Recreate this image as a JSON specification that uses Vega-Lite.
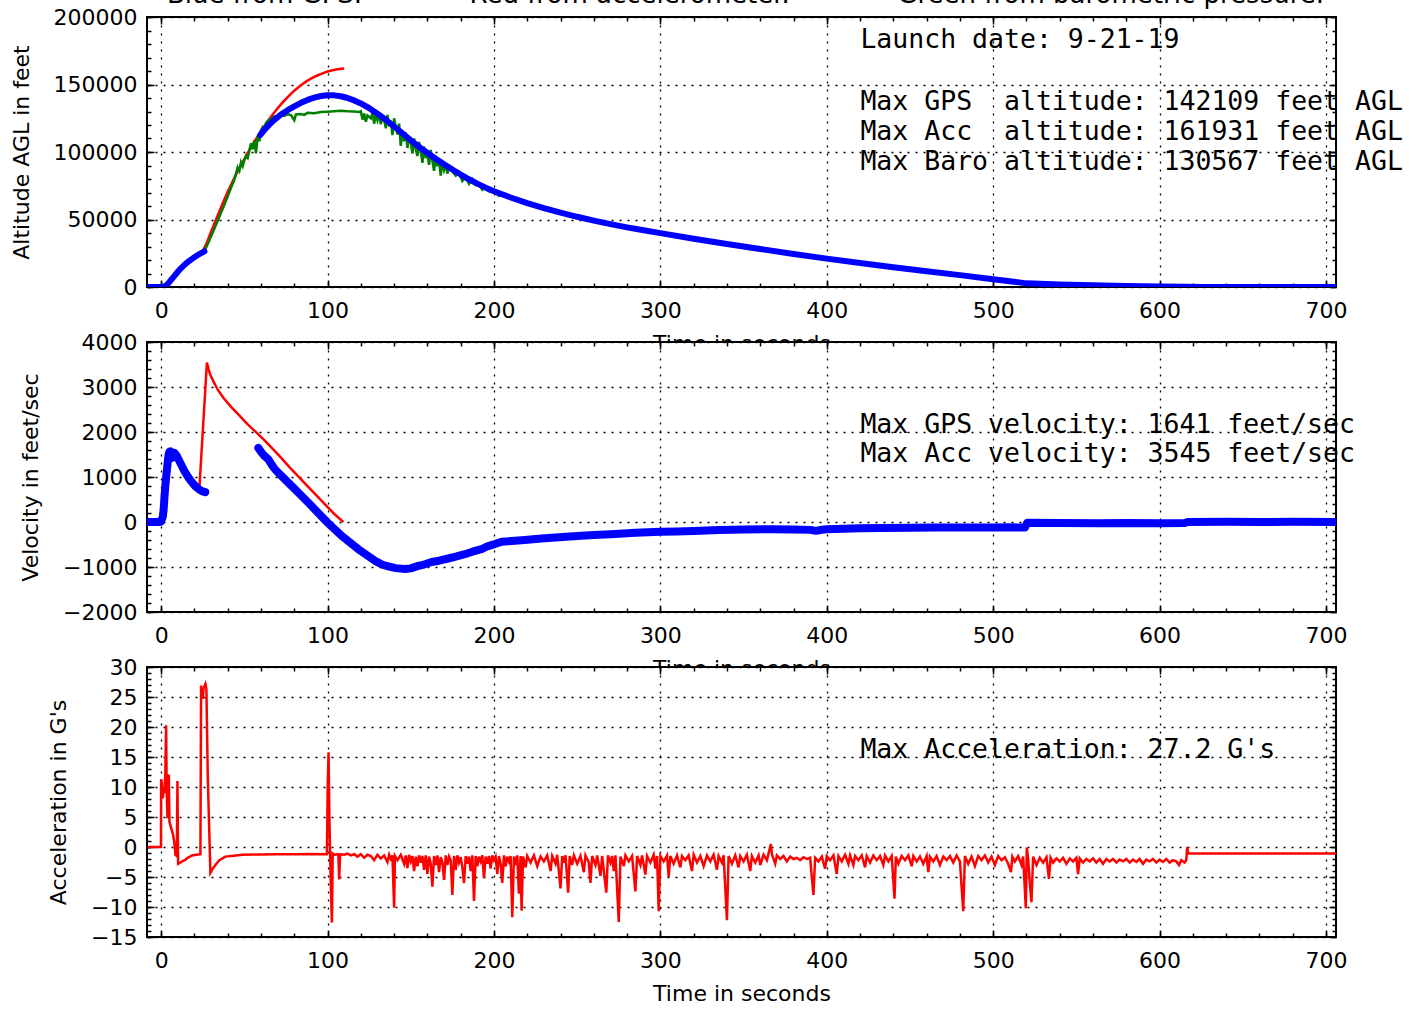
{
"$schema": "https://vega.github.io/schema/vega-lite/v6.json",
"background": "white",
"padding": {"left": 9, "top": -18, "right": 5, "bottom": 5},
"title": {"text": "Blue from GPS.\u00a0 \u00a0 \u00a0 \u00a0 \u00a0 \u00a0 \u00a0Red from accelerometer.\u00a0 \u00a0 \u00a0 \u00a0 \u00a0 \u00a0 \u00a0Green from barometric pressure.", "anchor": "middle", "frame": "group", "fontSize": 26, "font": "DejaVu Sans", "fontWeight": "normal", "color": "black", "offset": 12, "dy": 36, "dx": 4, "baseline": "alphabetic"},
"bounds": "flush",
"spacing": 55,
"datasets": {
"dummy": [{"t": 0, "y": 0}],
"notes": [
{"p": 1, "t": 420.2, "y": 177000, "label": "Launch date: 9-21-19"},
{"p": 1, "t": 420.2, "y": 131100, "label": "Max GPS \u00a0altitude: 142109 feet AGL"},
{"p": 1, "t": 420.2, "y": 108900, "label": "Max Acc \u00a0altitude: 161931 feet AGL"},
{"p": 1, "t": 420.2, "y": 86700, "label": "Max Baro altitude: 130567 feet AGL"},
{"p": 2, "t": 420.2, "y": 1988, "label": "Max GPS velocity: 1641 feet/sec"},
{"p": 2, "t": 420.2, "y": 1323, "label": "Max Acc velocity: 3545 feet/sec"},
{"p": 3, "t": 420.2, "y": 14.8, "label": "Max Acceleration: 27.2 G's"}
],
"alt": [
{"s":"GPS1","t":-8,"a":0},{"s":"GPS1","t":-4,"a":0},{"s":"GPS1","t":0,"a":0},{"s":"GPS1","t":2,"a":450},{"s":"GPS1","t":3,"a":1200},{"s":"GPS1","t":4,"a":2350},{"s":"GPS1","t":5,"a":3800},{"s":"GPS1","t":6,"a":5350},{"s":"GPS1","t":7,"a":6800},{"s":"GPS1","t":8,"a":8300},{"s":"GPS1","t":10,"a":11300},{"s":"GPS1","t":12,"a":14000},{"s":"GPS1","t":14,"a":16400},{"s":"GPS1","t":16,"a":18500},{"s":"GPS1","t":18,"a":20300},{"s":"GPS1","t":20,"a":22100},{"s":"GPS1","t":22,"a":23700},{"s":"GPS1","t":24,"a":25100},{"s":"GPS1","t":26,"a":26400},
{"s":"GPS2","t":59.5,"a":112500},{"s":"GPS2","t":62,"a":116300},{"s":"GPS2","t":65,"a":120300},{"s":"GPS2","t":68,"a":123800},{"s":"GPS2","t":72,"a":127800},{"s":"GPS2","t":76,"a":131000},{"s":"GPS2","t":80,"a":133800},{"s":"GPS2","t":84,"a":136400},{"s":"GPS2","t":88,"a":138600},{"s":"GPS2","t":92,"a":140300},{"s":"GPS2","t":96,"a":141500},{"s":"GPS2","t":100,"a":142109},{"s":"GPS2","t":104,"a":141950},{"s":"GPS2","t":108,"a":141300},{"s":"GPS2","t":112,"a":140000},{"s":"GPS2","t":116,"a":138200},{"s":"GPS2","t":120,"a":136000},{"s":"GPS2","t":124,"a":133300},{"s":"GPS2","t":128,"a":130000},{"s":"GPS2","t":132,"a":126600},{"s":"GPS2","t":136,"a":122800},{"s":"GPS2","t":140,"a":118900},{"s":"GPS2","t":144,"a":114800},{"s":"GPS2","t":148,"a":110700},{"s":"GPS2","t":152,"a":106700},{"s":"GPS2","t":156,"a":102900},{"s":"GPS2","t":160,"a":99300},{"s":"GPS2","t":165,"a":95000},{"s":"GPS2","t":170,"a":90900},{"s":"GPS2","t":175,"a":87000},{"s":"GPS2","t":180,"a":83300},{"s":"GPS2","t":185,"a":79800},{"s":"GPS2","t":190,"a":76600},{"s":"GPS2","t":195,"a":73600},{"s":"GPS2","t":200,"a":70900},{"s":"GPS2","t":210,"a":66300},{"s":"GPS2","t":220,"a":62200},{"s":"GPS2","t":230,"a":58500},{"s":"GPS2","t":240,"a":55100},{"s":"GPS2","t":250,"a":52000},{"s":"GPS2","t":260,"a":49200},{"s":"GPS2","t":270,"a":46600},{"s":"GPS2","t":280,"a":44200},{"s":"GPS2","t":290,"a":42000},{"s":"GPS2","t":300,"a":39900},{"s":"GPS2","t":320,"a":35800},{"s":"GPS2","t":340,"a":31900},{"s":"GPS2","t":360,"a":28200},{"s":"GPS2","t":380,"a":24500},{"s":"GPS2","t":400,"a":21000},{"s":"GPS2","t":420,"a":17800},{"s":"GPS2","t":440,"a":14700},{"s":"GPS2","t":460,"a":11700},{"s":"GPS2","t":480,"a":8800},{"s":"GPS2","t":500,"a":5800},{"s":"GPS2","t":510,"a":4300},{"s":"GPS2","t":520,"a":2700},{"s":"GPS2","t":540,"a":1900},{"s":"GPS2","t":560,"a":1300},{"s":"GPS2","t":580,"a":800},{"s":"GPS2","t":600,"a":400},{"s":"GPS2","t":617,"a":100},{"s":"GPS2","t":625,"a":0},{"s":"GPS2","t":706,"a":0},
{"s":"ACC","t":0,"a":0},{"s":"ACC","t":2,"a":450},{"s":"ACC","t":4,"a":2350},{"s":"ACC","t":6,"a":5350},{"s":"ACC","t":8,"a":8300},{"s":"ACC","t":10,"a":11300},{"s":"ACC","t":14,"a":16400},{"s":"ACC","t":18,"a":20300},{"s":"ACC","t":22,"a":23700},{"s":"ACC","t":23,"a":24500},{"s":"ACC","t":24.5,"a":26000},{"s":"ACC","t":26,"a":29000},{"s":"ACC","t":27.5,"a":33000},{"s":"ACC","t":30,"a":41000},{"s":"ACC","t":32.5,"a":48500},{"s":"ACC","t":35,"a":56000},{"s":"ACC","t":37.5,"a":63500},{"s":"ACC","t":40,"a":70500},{"s":"ACC","t":42.5,"a":77000},{"s":"ACC","t":45,"a":83200},{"s":"ACC","t":47.5,"a":89000},{"s":"ACC","t":50,"a":94800},{"s":"ACC","t":52.5,"a":100300},{"s":"ACC","t":55,"a":105600},{"s":"ACC","t":57.5,"a":110600},{"s":"ACC","t":60,"a":115300},{"s":"ACC","t":62.5,"a":120000},{"s":"ACC","t":65,"a":124400},{"s":"ACC","t":67.5,"a":128500},{"s":"ACC","t":70,"a":132400},{"s":"ACC","t":72.5,"a":136000},{"s":"ACC","t":75,"a":139400},{"s":"ACC","t":77.5,"a":142500},{"s":"ACC","t":80,"a":145400},{"s":"ACC","t":82.5,"a":148000},{"s":"ACC","t":85,"a":150400},{"s":"ACC","t":87.5,"a":152500},{"s":"ACC","t":90,"a":154300},{"s":"ACC","t":93.5,"a":156500},{"s":"ACC","t":97,"a":158300},{"s":"ACC","t":100,"a":159600},{"s":"ACC","t":103,"a":160600},{"s":"ACC","t":106,"a":161300},{"s":"ACC","t":110,"a":161931},
{"s":"BARO","t":-8,"a":0},{"s":"BARO","t":0,"a":0},{"s":"BARO","t":4,"a":2350},{"s":"BARO","t":8,"a":8300},{"s":"BARO","t":12,"a":14000},{"s":"BARO","t":16,"a":18500},{"s":"BARO","t":20,"a":22100},{"s":"BARO","t":24,"a":25100},{"s":"BARO","t":26,"a":26400},{"s":"BARO","t":30,"a":37500},{"s":"BARO","t":34,"a":49000},{"s":"BARO","t":38,"a":61000},{"s":"BARO","t":42,"a":73500},{"s":"BARO","t":44,"a":79500},{"s":"BARO","t":45,"a":84000},{"s":"BARO","t":46,"a":88500},{"s":"BARO","t":47,"a":86000},{"s":"BARO","t":48,"a":92500},{"s":"BARO","t":49,"a":89500},{"s":"BARO","t":50,"a":94000},{"s":"BARO","t":51,"a":97000},{"s":"BARO","t":52,"a":95500},{"s":"BARO","t":53,"a":101000},{"s":"BARO","t":54,"a":106500},{"s":"BARO","t":55,"a":102000},{"s":"BARO","t":56,"a":108500},{"s":"BARO","t":57,"a":99000},{"s":"BARO","t":58,"a":112000},{"s":"BARO","t":59,"a":108000},{"s":"BARO","t":60,"a":116000},{"s":"BARO","t":61,"a":118500},{"s":"BARO","t":62,"a":117000},{"s":"BARO","t":63,"a":121500},{"s":"BARO","t":64,"a":123000},{"s":"BARO","t":66,"a":124500},{"s":"BARO","t":68,"a":126500},{"s":"BARO","t":70,"a":126000},{"s":"BARO","t":72,"a":127500},{"s":"BARO","t":74,"a":126800},{"s":"BARO","t":76,"a":128000},{"s":"BARO","t":78,"a":127300},{"s":"BARO","t":80,"a":123500},{"s":"BARO","t":81,"a":127800},{"s":"BARO","t":84,"a":128200},{"s":"BARO","t":86,"a":127500},{"s":"BARO","t":88,"a":129000},{"s":"BARO","t":92,"a":128700},{"s":"BARO","t":96,"a":129600},{"s":"BARO","t":100,"a":129900},{"s":"BARO","t":104,"a":130200},{"s":"BARO","t":108,"a":130567},{"s":"BARO","t":112,"a":130100},{"s":"BARO","t":116,"a":130000},{"s":"BARO","t":119,"a":129600},{"s":"BARO","t":120,"a":130200},{"s":"BARO","t":121,"a":124000},{"s":"BARO","t":122,"a":128500},{"s":"BARO","t":123,"a":122500},{"s":"BARO","t":124,"a":127000},{"s":"BARO","t":126,"a":125000},{"s":"BARO","t":127,"a":129000},{"s":"BARO","t":128,"a":121000},{"s":"BARO","t":129,"a":127500},{"s":"BARO","t":130,"a":123500},{"s":"BARO","t":131,"a":128500},{"s":"BARO","t":132,"a":120500},{"s":"BARO","t":133,"a":126000},{"s":"BARO","t":134,"a":124500},{"s":"BARO","t":135,"a":117500},{"s":"BARO","t":136,"a":127500},{"s":"BARO","t":137,"a":119000},{"s":"BARO","t":138,"a":123000},{"s":"BARO","t":139,"a":112500},{"s":"BARO","t":140,"a":125000},{"s":"BARO","t":141,"a":118000},{"s":"BARO","t":142,"a":113000},{"s":"BARO","t":143,"a":121000},{"s":"BARO","t":144,"a":104500},{"s":"BARO","t":145,"a":116000},{"s":"BARO","t":146,"a":108000},{"s":"BARO","t":147,"a":114500},{"s":"BARO","t":148,"a":103000},{"s":"BARO","t":149,"a":111500},{"s":"BARO","t":150,"a":107000},{"s":"BARO","t":151,"a":99000},{"s":"BARO","t":152,"a":110000},{"s":"BARO","t":153,"a":102000},{"s":"BARO","t":154,"a":97000},{"s":"BARO","t":155,"a":107500},{"s":"BARO","t":156,"a":101000},{"s":"BARO","t":157,"a":92000},{"s":"BARO","t":158,"a":104000},{"s":"BARO","t":159,"a":95500},{"s":"BARO","t":160,"a":99000},{"s":"BARO","t":161,"a":90500},{"s":"BARO","t":162,"a":101500},{"s":"BARO","t":163,"a":93500},{"s":"BARO","t":164,"a":86000},{"s":"BARO","t":165,"a":97000},{"s":"BARO","t":166,"a":89500},{"s":"BARO","t":167,"a":94000},{"s":"BARO","t":168,"a":82500},{"s":"BARO","t":169,"a":92000},{"s":"BARO","t":170,"a":86500},{"s":"BARO","t":171,"a":90500},{"s":"BARO","t":172,"a":84000},{"s":"BARO","t":173,"a":88500},{"s":"BARO","t":175,"a":85500},{"s":"BARO","t":177,"a":82500},{"s":"BARO","t":179,"a":85000},{"s":"BARO","t":181,"a":78500},{"s":"BARO","t":183,"a":81500},{"s":"BARO","t":185,"a":76500},{"s":"BARO","t":187,"a":80000},{"s":"BARO","t":189,"a":75500},{"s":"BARO","t":191,"a":76000},{"s":"BARO","t":193,"a":72000},{"s":"BARO","t":195,"a":74500},{"s":"BARO","t":197,"a":71000},{"s":"BARO","t":200,"a":71000},{"s":"BARO","t":203,"a":67500},{"s":"BARO","t":206,"a":68500},{"s":"BARO","t":210,"a":65500},{"s":"BARO","t":215,"a":63500},{"s":"BARO","t":220,"a":61000},{"s":"BARO","t":225,"a":60000},{"s":"BARO","t":230,"a":57500},{"s":"BARO","t":240,"a":54500},{"s":"BARO","t":250,"a":51500},{"s":"BARO","t":260,"a":48800},{"s":"BARO","t":270,"a":46200},{"s":"BARO","t":280,"a":43800},{"s":"BARO","t":300,"a":39500},{"s":"BARO","t":350,"a":29800},{"s":"BARO","t":400,"a":20700},{"s":"BARO","t":450,"a":12900},{"s":"BARO","t":500,"a":5700},{"s":"BARO","t":520,"a":2800},{"s":"BARO","t":560,"a":1200},{"s":"BARO","t":600,"a":300},{"s":"BARO","t":620,"a":0},{"s":"BARO","t":706,"a":0}
],
"vel": [
{"s":"GPS1","t":-8,"v":0},{"s":"GPS1","t":-4,"v":0},{"s":"GPS1","t":-0.5,"v":0},{"s":"GPS1","t":0,"v":10},{"s":"GPS1","t":1,"v":120},{"s":"GPS1","t":1.5,"v":280},{"s":"GPS1","t":2,"v":550},{"s":"GPS1","t":2.5,"v":800},{"s":"GPS1","t":3,"v":990},{"s":"GPS1","t":3.5,"v":1170},{"s":"GPS1","t":4,"v":1350},{"s":"GPS1","t":4.5,"v":1500},{"s":"GPS1","t":5,"v":1560},{"s":"GPS1","t":5.5,"v":1570},{"s":"GPS1","t":6,"v":1500},{"s":"GPS1","t":6.5,"v":1425},{"s":"GPS1","t":7,"v":1480},{"s":"GPS1","t":7.5,"v":1540},{"s":"GPS1","t":8,"v":1536},{"s":"GPS1","t":8.5,"v":1510},{"s":"GPS1","t":9.5,"v":1462},{"s":"GPS1","t":11,"v":1350},{"s":"GPS1","t":12.5,"v":1240},{"s":"GPS1","t":14,"v":1130},{"s":"GPS1","t":15.5,"v":1040},{"s":"GPS1","t":16.5,"v":983},{"s":"GPS1","t":18,"v":910},{"s":"GPS1","t":19.5,"v":840},{"s":"GPS1","t":20.5,"v":797},{"s":"GPS1","t":22,"v":750},{"s":"GPS1","t":23,"v":720},{"s":"GPS1","t":24.5,"v":686},{"s":"GPS1","t":26.5,"v":665},
{"s":"GPS2","t":58.4,"v":1647},{"s":"GPS2","t":60,"v":1560},{"s":"GPS2","t":62,"v":1470},{"s":"GPS2","t":64.5,"v":1388},{"s":"GPS2","t":66.5,"v":1270},{"s":"GPS2","t":68.5,"v":1167},{"s":"GPS2","t":73.5,"v":980},{"s":"GPS2","t":78.5,"v":797},{"s":"GPS2","t":88.5,"v":428},{"s":"GPS2","t":100,"v":-14},{"s":"GPS2","t":108.5,"v":-310},{"s":"GPS2","t":118.5,"v":-605},{"s":"GPS2","t":128.5,"v":-863},{"s":"GPS2","t":133,"v":-950},{"s":"GPS2","t":136.5,"v":-988},{"s":"GPS2","t":141,"v":-1025},{"s":"GPS2","t":146.5,"v":-1045},{"s":"GPS2","t":150,"v":-1030},{"s":"GPS2","t":154.5,"v":-975},{"s":"GPS2","t":158,"v":-945},{"s":"GPS2","t":162.5,"v":-890},{"s":"GPS2","t":167,"v":-860},{"s":"GPS2","t":172.5,"v":-811},{"s":"GPS2","t":177,"v":-770},{"s":"GPS2","t":182.5,"v":-715},{"s":"GPS2","t":187,"v":-660},{"s":"GPS2","t":192.5,"v":-605},{"s":"GPS2","t":196,"v":-540},{"s":"GPS2","t":200.5,"v":-490},{"s":"GPS2","t":204.6,"v":-438},{"s":"GPS2","t":208.5,"v":-430},{"s":"GPS2","t":218.5,"v":-398},{"s":"GPS2","t":228.5,"v":-369},{"s":"GPS2","t":237,"v":-343},{"s":"GPS2","t":250,"v":-310},{"s":"GPS2","t":260,"v":-290},{"s":"GPS2","t":270,"v":-270},{"s":"GPS2","t":285,"v":-240},{"s":"GPS2","t":300,"v":-219},{"s":"GPS2","t":310,"v":-210},{"s":"GPS2","t":320,"v":-200},{"s":"GPS2","t":335,"v":-178},{"s":"GPS2","t":350,"v":-168},{"s":"GPS2","t":367,"v":-161},{"s":"GPS2","t":380,"v":-168},{"s":"GPS2","t":390,"v":-175},{"s":"GPS2","t":393.5,"v":-197},{"s":"GPS2","t":397,"v":-172},{"s":"GPS2","t":400,"v":-161},{"s":"GPS2","t":420,"v":-140},{"s":"GPS2","t":432.5,"v":-131},{"s":"GPS2","t":450,"v":-128},{"s":"GPS2","t":465,"v":-124},{"s":"GPS2","t":480,"v":-120},{"s":"GPS2","t":500,"v":-124},{"s":"GPS2","t":510,"v":-118},{"s":"GPS2","t":519,"v":-124},{"s":"GPS2","t":520.5,"v":-15},{"s":"GPS2","t":540,"v":-22},{"s":"GPS2","t":563,"v":-29},{"s":"GPS2","t":580,"v":-20},{"s":"GPS2","t":600,"v":-27},{"s":"GPS2","t":615,"v":-24},{"s":"GPS2","t":617,"v":2},{"s":"GPS2","t":640,"v":5},{"s":"GPS2","t":660,"v":0},{"s":"GPS2","t":680,"v":4},{"s":"GPS2","t":706,"v":0},
{"s":"ACC","t":-8,"v":0},{"s":"ACC","t":-0.5,"v":0},{"s":"ACC","t":0,"v":10},{"s":"ACC","t":1.5,"v":280},{"s":"ACC","t":2.5,"v":800},{"s":"ACC","t":3.5,"v":1170},{"s":"ACC","t":4.5,"v":1500},{"s":"ACC","t":5.5,"v":1570},{"s":"ACC","t":8,"v":1530},{"s":"ACC","t":12.5,"v":1240},{"s":"ACC","t":16.5,"v":983},{"s":"ACC","t":20.5,"v":797},{"s":"ACC","t":23,"v":770},{"s":"ACC","t":27.5,"v":3545},{"s":"ACC","t":28.5,"v":3400},{"s":"ACC","t":29.5,"v":3270},{"s":"ACC","t":31.5,"v":3120},{"s":"ACC","t":34,"v":2940},{"s":"ACC","t":37.5,"v":2754},{"s":"ACC","t":42,"v":2560},{"s":"ACC","t":47.5,"v":2347},{"s":"ACC","t":52,"v":2170},{"s":"ACC","t":57.5,"v":1979},{"s":"ACC","t":62,"v":1820},{"s":"ACC","t":67.5,"v":1610},{"s":"ACC","t":72,"v":1430},{"s":"ACC","t":77.5,"v":1204},{"s":"ACC","t":82,"v":1030},{"s":"ACC","t":87.5,"v":812},{"s":"ACC","t":92,"v":640},{"s":"ACC","t":99.5,"v":354},{"s":"ACC","t":104,"v":180},{"s":"ACC","t":109.5,"v":0}
],
"acc": [
{"t":-8,"g":0},{"t":-0.1,"g":0},{"t":0,"g":11.3},{"t":0.5,"g":10.5},{"t":1,"g":8.1},{"t":1.5,"g":9.5},{"t":2,"g":9.0},{"t":2.5,"g":12},{"t":3,"g":20.3},{"t":3.3,"g":10},{"t":3.8,"g":4.8},{"t":4.2,"g":9},{"t":4.6,"g":12.1},{"t":5,"g":4.2},{"t":6,"g":3.2},{"t":7.2,"g":2.0},{"t":8,"g":0.5},{"t":8.6,"g":-1.3},{"t":9.4,"g":-1.5},{"t":9.8,"g":11.0},{"t":10.2,"g":-2.8},{"t":11,"g":-2.7},{"t":12,"g":-2.5},{"t":14.6,"g":-2.1},{"t":16,"g":-1.8},{"t":18.6,"g":-1.4},{"t":21,"g":-1.3},{"t":23.6,"g":-1.2},{"t":24,"g":26.9},{"t":24.5,"g":25.5},{"t":25,"g":24.7},{"t":25.5,"g":26.5},{"t":26.6,"g":27.2},{"t":27.2,"g":26.3},{"t":28,"g":12},{"t":29.6,"g":-4.3},{"t":31,"g":-3.6},{"t":32.6,"g":-3.0},{"t":35,"g":-2.2},{"t":38.6,"g":-1.6},{"t":45,"g":-1.4},{"t":48.6,"g":-1.3},{"t":60,"g":-1.25},{"t":68.6,"g":-1.2},{"t":80,"g":-1.2},{"t":90,"g":-1.15},{"t":99.6,"g":-1.2},{"t":100.1,"g":10},{"t":100.6,"g":15.8},{"t":101.1,"g":5},{"t":101.6,"g":-2.4},{"t":102.1,"g":-8},{"t":102.6,"g":-12.6},{"t":103.1,"g":-1.1},{"t":104,"g":-1.3},{"t":106.5,"g":-1.2},{"t":107,"g":-5.4},{"t":107.5,"g":-1.3},
{"t":108,"g":-1.2},{"t":110,"g":-1.3},{"t":112,"g":-1.1},{"t":114,"g":-1.4},{"t":116,"g":-1.2},{"t":118,"g":-1.6},{"t":120,"g":-1.2},{"t":122,"g":-1.8},{"t":124,"g":-1.3},{"t":126,"g":-1.5},{"t":128,"g":-2.2},{"t":130,"g":-1.3},{"t":132,"g":-1.9},{"t":134,"g":-1.4},{"t":136,"g":-2.5},{"t":137,"g":-1.3},{"t":138,"g":-2.0},{"t":139,"g":-1.4},{"t":140,"g":-10.1},{"t":140.5,"g":-1.5},{"t":142,"g":-2.2},{"t":144,"g":-1.3},{"t":146,"g":-2.8},{"t":147,"g":-1.4},{"t":148,"g":-3.5},{"t":149,"g":-1.3},{"t":150,"g":-2.4},{"t":151,"g":-1.5},{"t":152,"g":-4.0},{"t":153,"g":-1.6},{"t":154,"g":-3.2},{"t":155,"g":-1.4},{"t":156,"g":-2.6},{"t":157,"g":-1.5},{"t":158,"g":-3.8},{"t":159,"g":-1.4},{"t":160,"g":-4.5},{"t":161,"g":-1.6},{"t":162,"g":-2.8},{"t":163,"g":-6.6},{"t":164,"g":-1.5},{"t":165,"g":-3.0},{"t":166,"g":-1.4},{"t":167,"g":-4.2},{"t":168,"g":-1.7},{"t":169,"g":-2.5},{"t":170,"g":-5.5},{"t":171,"g":-1.4},{"t":172,"g":-3.0},{"t":173,"g":-1.6},{"t":174,"g":-2.2},{"t":175,"g":-8.0},{"t":176,"g":-1.5},{"t":177,"g":-3.8},{"t":178,"g":-1.4},{"t":179,"g":-2.6},{"t":180,"g":-1.7},{"t":181,"g":-3.4},{"t":182,"g":-6.0},{"t":183,"g":-1.5},{"t":184,"g":-2.8},{"t":185,"g":-1.6},{"t":186,"g":-4.0},{"t":187,"g":-1.4},{"t":188,"g":-9.0},{"t":189,"g":-1.5},{"t":190,"g":-3.2},{"t":191,"g":-1.6},{"t":192,"g":-2.4},{"t":193,"g":-1.4},{"t":194,"g":-5.2},{"t":195,"g":-1.6},{"t":196,"g":-2.8},{"t":197,"g":-1.5},{"t":198,"g":-3.6},{"t":199,"g":-1.4},{"t":200,"g":-2.2},{"t":201,"g":-1.6},{"t":202,"g":-4.5},{"t":203,"g":-1.5},{"t":204,"g":-2.8},{"t":205,"g":-6.0},{"t":206,"g":-1.4},{"t":207,"g":-3.2},{"t":208,"g":-1.6},{"t":209,"g":-2.4},{"t":210,"g":-1.5},{"t":211,"g":-11.7},{"t":212,"g":-1.6},{"t":213,"g":-3.0},{"t":214,"g":-1.4},{"t":215,"g":-7.8},{"t":216,"g":-1.5},{"t":216.6,"g":-10.6},{"t":217.5,"g":-1.6},{"t":219,"g":-3.4},{"t":220,"g":-1.5},{"t":222,"g":-2.6},{"t":224,"g":-1.4},{"t":226,"g":-3.2},{"t":228,"g":-1.6},{"t":230,"g":-2.4},{"t":232,"g":-1.4},{"t":234,"g":-4.0},{"t":235,"g":-1.5},{"t":237,"g":-2.8},{"t":238,"g":-1.3},{"t":240,"g":-6.9},{"t":241,"g":-1.5},{"t":242,"g":-2.6},{"t":243,"g":-1.4},{"t":244.6,"g":-7.6},{"t":245.5,"g":-1.5},{"t":247,"g":-3.0},{"t":248,"g":-1.4},{"t":250,"g":-2.8},{"t":252,"g":-1.5},{"t":254,"g":-4.2},{"t":255,"g":-1.4},{"t":257,"g":-2.6},{"t":258,"g":-6.0},{"t":259,"g":-1.5},{"t":261,"g":-3.0},{"t":262,"g":-1.4},{"t":264,"g":-4.8},{"t":265,"g":-1.5},{"t":267.5,"g":-7.6},{"t":268.5,"g":-1.4},{"t":270,"g":-2.6},{"t":271,"g":-1.5},{"t":272,"g":-4.0},{"t":273,"g":-1.4},{"t":275,"g":-12.5},{"t":276,"g":-1.6},{"t":278,"g":-3.2},{"t":279,"g":-1.4},{"t":281,"g":-2.4},{"t":283,"g":-1.5},{"t":285,"g":-7.4},{"t":286,"g":-1.5},{"t":288,"g":-3.0},{"t":289,"g":-1.4},{"t":291,"g":-4.6},{"t":292,"g":-1.5},{"t":294,"g":-2.6},{"t":296,"g":-1.3},{"t":297,"g":-3.6},{"t":298,"g":-1.5},{"t":299,"g":-10.7},{"t":300,"g":-1.5},{"t":302,"g":-2.4},{"t":304,"g":-1.4},{"t":305,"g":-5.0},{"t":306,"g":-1.5},{"t":308,"g":-2.8},{"t":310,"g":-1.4},{"t":312,"g":-3.4},{"t":313,"g":-1.5},{"t":315,"g":-2.2},{"t":317,"g":-1.4},{"t":319,"g":-4.0},{"t":320,"g":-1.3},{"t":322,"g":-2.6},{"t":324,"g":-1.5},{"t":326,"g":-3.2},{"t":328,"g":-1.4},{"t":330,"g":-2.4},{"t":332,"g":-1.3},{"t":334,"g":-3.8},{"t":335,"g":-1.5},{"t":337,"g":-2.6},{"t":338,"g":-1.4},{"t":340,"g":-12.2},{"t":341,"g":-1.5},{"t":343,"g":-2.8},{"t":345,"g":-1.4},{"t":347,"g":-3.4},{"t":348,"g":-1.5},{"t":350,"g":-2.4},{"t":352,"g":-1.3},{"t":354,"g":-4.0},{"t":355,"g":-1.5},{"t":357,"g":-2.6},{"t":359,"g":-1.4},{"t":360,"g":-3.0},{"t":362,"g":-1.3},{"t":364,"g":-2.2},{"t":366.4,"g":0.5},{"t":367,"g":-1.2},{"t":369,"g":-2.8},{"t":370,"g":-1.4},{"t":372,"g":-2.0},{"t":374,"g":-1.5},{"t":376,"g":-2.4},{"t":378,"g":-1.6},{"t":380,"g":-2.0},{"t":382,"g":-1.8},{"t":384,"g":-2.2},{"t":386,"g":-1.7},{"t":388,"g":-2.0},{"t":390,"g":-1.8},{"t":391,"g":-5.0},{"t":392,"g":-8.0},{"t":393,"g":-1.8},{"t":395,"g":-2.4},{"t":397,"g":-1.6},{"t":399,"g":-3.6},{"t":400,"g":-1.5},{"t":402,"g":-2.2},{"t":404,"g":-1.4},{"t":406,"g":-4.5},{"t":407,"g":-1.5},{"t":409,"g":-2.4},{"t":411,"g":-1.3},{"t":413,"g":-2.8},{"t":414,"g":-1.4},{"t":416,"g":-3.0},{"t":417,"g":-1.5},{"t":419,"g":-2.2},{"t":421,"g":-1.4},{"t":423,"g":-3.4},{"t":424,"g":-1.5},{"t":426,"g":-2.6},{"t":428,"g":-1.4},{"t":430,"g":-2.2},{"t":432,"g":-1.5},{"t":434,"g":-3.0},{"t":435,"g":-1.4},{"t":437,"g":-2.4},{"t":439,"g":-1.5},{"t":440.7,"g":-8.6},{"t":441.5,"g":-1.6},{"t":443,"g":-2.8},{"t":445,"g":-1.5},{"t":447,"g":-2.2},{"t":449,"g":-1.4},{"t":451,"g":-3.2},{"t":452,"g":-1.5},{"t":454,"g":-2.4},{"t":456,"g":-1.6},{"t":458,"g":-2.8},{"t":460,"g":-1.5},{"t":461,"g":-4.2},{"t":462,"g":-1.6},{"t":464,"g":-2.4},{"t":466,"g":-1.5},{"t":468,"g":-3.0},{"t":470,"g":-1.6},{"t":472,"g":-2.2},{"t":474,"g":-1.5},{"t":476,"g":-2.6},{"t":478,"g":-1.4},{"t":480,"g":-2.4},{"t":482,"g":-10.7},{"t":483,"g":-1.5},{"t":485,"g":-2.8},{"t":487,"g":-1.6},{"t":489,"g":-3.2},{"t":491,"g":-1.5},{"t":493,"g":-2.2},{"t":495,"g":-1.4},{"t":497,"g":-2.6},{"t":499,"g":-1.6},{"t":501,"g":-3.0},{"t":503,"g":-1.5},{"t":505,"g":-2.2},{"t":507,"g":-1.7},{"t":509,"g":-2.8},{"t":510.7,"g":-4.2},{"t":511.5,"g":-1.6},{"t":513,"g":-2.4},{"t":515,"g":-1.5},{"t":517,"g":-3.0},{"t":518,"g":-1.6},{"t":519.6,"g":-10.2},{"t":520.2,"g":-0.1},{"t":521,"g":-2.0},{"t":522,"g":-6.0},{"t":523,"g":-9.2},{"t":524,"g":-1.6},{"t":526,"g":-3.0},{"t":528,"g":-1.8},{"t":530,"g":-2.6},{"t":532,"g":-1.7},{"t":533.5,"g":-5.3},{"t":534.5,"g":-1.8},{"t":536,"g":-2.6},{"t":538,"g":-1.9},{"t":540,"g":-2.4},{"t":542,"g":-1.8},{"t":544,"g":-2.8},{"t":546,"g":-1.9},{"t":548,"g":-2.4},{"t":550,"g":-1.8},{"t":551,"g":-4.5},{"t":552,"g":-1.9},{"t":554,"g":-2.6},{"t":556,"g":-2.0},{"t":558,"g":-2.4},{"t":560,"g":-1.9},{"t":562,"g":-2.6},{"t":564,"g":-2.0},{"t":566,"g":-2.8},{"t":568,"g":-2.0},{"t":570,"g":-2.4},{"t":572,"g":-2.0},{"t":574,"g":-2.6},{"t":576,"g":-2.1},{"t":578,"g":-2.4},{"t":580,"g":-2.0},{"t":582,"g":-2.6},{"t":584,"g":-2.1},{"t":586,"g":-2.5},{"t":588,"g":-2.0},{"t":590,"g":-2.8},{"t":592,"g":-2.1},{"t":594,"g":-2.4},{"t":596,"g":-2.0},{"t":598,"g":-2.6},{"t":600,"g":-2.1},{"t":602,"g":-2.5},{"t":604,"g":-2.0},{"t":606,"g":-2.6},{"t":608,"g":-2.2},{"t":610,"g":-2.4},{"t":611.7,"g":-3.0},{"t":613,"g":-2.2},{"t":615,"g":-2.6},{"t":616,"g":-2.2},{"t":616.6,"g":0},{"t":617.2,"g":-1.1},{"t":640,"g":-1.1},{"t":680,"g":-1.1},{"t":706,"g":-1.1}
]
},
"vconcat": [
{
"width": 1189, "height": 270,
"layer": [
{"data": {"name": "alt"}, "transform": [{"filter": "datum.s === 'ACC'"}],
 "mark": {"type": "line", "color": "#ff0000", "strokeWidth": 2.5, "clip": true},
 "encoding": {
  "x": {"field": "t", "type": "quantitative", "scale": {"domain": [-8.5, 706], "nice": false, "zero": false},
        "axis": {"orient": "bottom", "values": [0,100,200,300,400,500,600,700], "ticks": false, "labelPadding": 13, "grid": true, "title": "Time in seconds", "titlePadding": 12, "format": "d"}},
  "y": {"field": "a", "type": "quantitative", "scale": {"domain": [0, 200000], "nice": false, "zero": false},
        "axis": {"orient": "left", "values": [0,50000,100000,150000,200000], "ticks": false, "labelPadding": 10, "grid": true, "title": "Altitude AGL in feet", "titlePadding": 20, "format": "d"}}}},
{"data": {"name": "alt"}, "transform": [{"filter": "datum.s === 'BARO'"}],
 "mark": {"type": "line", "color": "#008000", "strokeWidth": 2.5, "clip": true},
 "encoding": {
  "x": {"field": "t", "type": "quantitative", "axis": {"orient": "bottom", "values": [0,100,200,300,400,500,600,700], "labels": false, "grid": false, "tickSize": -7, "title": null}},
  "y": {"field": "a", "type": "quantitative", "axis": {"orient": "left", "values": [0,50000,100000,150000,200000], "labels": false, "grid": false, "tickSize": -7, "title": null}}}},
{"data": {"name": "alt"}, "transform": [{"filter": "datum.s === 'GPS1' || datum.s === 'GPS2'"}],
 "mark": {"type": "line", "color": "#0000ff", "strokeWidth": 6, "strokeCap": "round", "strokeJoin": "round", "clip": true},
 "encoding": {
  "detail": {"field": "s"},
  "x": {"field": "t", "type": "quantitative", "axis": {"orient": "bottom", "values": [0,20,40,60,80,100,120,140,160,180,200,220,240,260,280,300,320,340,360,380,400,420,440,460,480,500,520,540,560,580,600,620,640,660,680,700], "labels": false, "grid": false, "tickSize": -4, "title": null}},
  "y": {"field": "a", "type": "quantitative", "axis": {"orient": "left", "values": [0,10000,20000,30000,40000,50000,60000,70000,80000,90000,100000,110000,120000,130000,140000,150000,160000,170000,180000,190000,200000], "labels": false, "grid": false, "tickSize": -4, "title": null}}}},
{"data": {"name": "dummy"}, "mark": {"type": "point", "opacity": 0},
 "encoding": {
  "x": {"field": "t", "type": "quantitative", "axis": {"orient": "top", "values": [0,100,200,300,400,500,600,700], "labels": false, "grid": false, "tickSize": -7, "title": null}},
  "y": {"field": "y", "type": "quantitative", "axis": {"orient": "right", "values": [0,50000,100000,150000,200000], "labels": false, "grid": false, "tickSize": -7, "title": null}}}},
{"data": {"name": "dummy"}, "mark": {"type": "point", "opacity": 0},
 "encoding": {
  "x": {"field": "t", "type": "quantitative", "axis": {"orient": "top", "values": [0,20,40,60,80,100,120,140,160,180,200,220,240,260,280,300,320,340,360,380,400,420,440,460,480,500,520,540,560,580,600,620,640,660,680,700], "labels": false, "grid": false, "tickSize": -4, "title": null}},
  "y": {"field": "y", "type": "quantitative", "axis": {"orient": "right", "values": [0,10000,20000,30000,40000,50000,60000,70000,80000,90000,100000,110000,120000,130000,140000,150000,160000,170000,180000,190000,200000], "labels": false, "grid": false, "tickSize": -4, "title": null}}}},
{"data": {"name": "notes"}, "transform": [{"filter": "datum.p === 1"}],
 "mark": {"type": "text", "align": "left", "baseline": "alphabetic", "font": "DejaVu Sans Mono", "fontSize": 26.5, "color": "black"},
 "encoding": {
  "x": {"field": "t", "type": "quantitative", "axis": null},
  "y": {"field": "y", "type": "quantitative", "axis": null},
  "text": {"field": "label"}}}
],
"resolve": {"axis": {"x": "independent", "y": "independent"}}
},
{
"width": 1189, "height": 270,
"layer": [
{"data": {"name": "vel"}, "transform": [{"filter": "datum.s === 'ACC'"}],
 "mark": {"type": "line", "color": "#ff0000", "strokeWidth": 2.5, "clip": true},
 "encoding": {
  "x": {"field": "t", "type": "quantitative", "scale": {"domain": [-8.5, 706], "nice": false, "zero": false},
        "axis": {"orient": "bottom", "values": [0,100,200,300,400,500,600,700], "ticks": false, "labelPadding": 13, "grid": true, "title": "Time in seconds", "titlePadding": 12, "format": "d"}},
  "y": {"field": "v", "type": "quantitative", "scale": {"domain": [-2000, 4000], "nice": false, "zero": false},
        "axis": {"orient": "left", "values": [-2000,-1000,0,1000,2000,3000,4000], "ticks": false, "labelPadding": 10, "grid": true, "title": "Velocity in feet/sec", "titlePadding": 20, "format": "d"}}}},
{"data": {"name": "vel"}, "transform": [{"filter": "datum.s === 'GPS1' || datum.s === 'GPS2'"}],
 "mark": {"type": "line", "color": "#0000ff", "strokeWidth": 8, "strokeCap": "round", "strokeJoin": "round", "clip": true},
 "encoding": {
  "detail": {"field": "s"},
  "x": {"field": "t", "type": "quantitative", "axis": {"orient": "bottom", "values": [0,100,200,300,400,500,600,700], "labels": false, "grid": false, "tickSize": -7, "title": null}},
  "y": {"field": "v", "type": "quantitative", "axis": {"orient": "left", "values": [-2000,-1000,0,1000,2000,3000,4000], "labels": false, "grid": false, "tickSize": -7, "title": null}}}},
{"data": {"name": "dummy"}, "mark": {"type": "point", "opacity": 0},
 "encoding": {
  "x": {"field": "t", "type": "quantitative", "axis": {"orient": "bottom", "values": [0,20,40,60,80,100,120,140,160,180,200,220,240,260,280,300,320,340,360,380,400,420,440,460,480,500,520,540,560,580,600,620,640,660,680,700], "labels": false, "grid": false, "tickSize": -4, "title": null}},
  "y": {"field": "y", "type": "quantitative", "axis": {"orient": "left", "values": [-2000,-1800,-1600,-1400,-1200,-1000,-800,-600,-400,-200,0,200,400,600,800,1000,1200,1400,1600,1800,2000,2200,2400,2600,2800,3000,3200,3400,3600,3800,4000], "labels": false, "grid": false, "tickSize": -4, "title": null}}}},
{"data": {"name": "dummy"}, "mark": {"type": "point", "opacity": 0},
 "encoding": {
  "x": {"field": "t", "type": "quantitative", "axis": {"orient": "top", "values": [0,100,200,300,400,500,600,700], "labels": false, "grid": false, "tickSize": -7, "title": null}},
  "y": {"field": "y", "type": "quantitative", "axis": {"orient": "right", "values": [-2000,-1000,0,1000,2000,3000,4000], "labels": false, "grid": false, "tickSize": -7, "title": null}}}},
{"data": {"name": "dummy"}, "mark": {"type": "point", "opacity": 0},
 "encoding": {
  "x": {"field": "t", "type": "quantitative", "axis": {"orient": "top", "values": [0,20,40,60,80,100,120,140,160,180,200,220,240,260,280,300,320,340,360,380,400,420,440,460,480,500,520,540,560,580,600,620,640,660,680,700], "labels": false, "grid": false, "tickSize": -4, "title": null}},
  "y": {"field": "y", "type": "quantitative", "axis": {"orient": "right", "values": [-2000,-1800,-1600,-1400,-1200,-1000,-800,-600,-400,-200,0,200,400,600,800,1000,1200,1400,1600,1800,2000,2200,2400,2600,2800,3000,3200,3400,3600,3800,4000], "labels": false, "grid": false, "tickSize": -4, "title": null}}}},
{"data": {"name": "notes"}, "transform": [{"filter": "datum.p === 2"}],
 "mark": {"type": "text", "align": "left", "baseline": "alphabetic", "font": "DejaVu Sans Mono", "fontSize": 26.5, "color": "black"},
 "encoding": {
  "x": {"field": "t", "type": "quantitative", "axis": null},
  "y": {"field": "y", "type": "quantitative", "axis": null},
  "text": {"field": "label"}}}
],
"resolve": {"axis": {"x": "independent", "y": "independent"}}
},
{
"width": 1189, "height": 270,
"layer": [
{"data": {"name": "acc"},
 "mark": {"type": "line", "color": "#ff0000", "strokeWidth": 2.5, "clip": true},
 "encoding": {
  "x": {"field": "t", "type": "quantitative", "scale": {"domain": [-8.5, 706], "nice": false, "zero": false},
        "axis": {"orient": "bottom", "values": [0,100,200,300,400,500,600,700], "ticks": false, "labelPadding": 13, "grid": true, "title": "Time in seconds", "titlePadding": 12, "format": "d"}},
  "y": {"field": "g", "type": "quantitative", "scale": {"domain": [-15, 30], "nice": false, "zero": false},
        "axis": {"orient": "left", "values": [-15,-10,-5,0,5,10,15,20,25,30], "ticks": false, "labelPadding": 10, "grid": true, "title": "Acceleration in G's", "titlePadding": 20, "format": "d"}}}},
{"data": {"name": "dummy"}, "mark": {"type": "point", "opacity": 0},
 "encoding": {
  "x": {"field": "t", "type": "quantitative", "axis": {"orient": "bottom", "values": [0,100,200,300,400,500,600,700], "labels": false, "grid": false, "tickSize": -7, "title": null}},
  "y": {"field": "y", "type": "quantitative", "axis": {"orient": "left", "values": [-15,-10,-5,0,5,10,15,20,25,30], "labels": false, "grid": false, "tickSize": -7, "title": null}}}},
{"data": {"name": "dummy"}, "mark": {"type": "point", "opacity": 0},
 "encoding": {
  "x": {"field": "t", "type": "quantitative", "axis": {"orient": "bottom", "values": [0,20,40,60,80,100,120,140,160,180,200,220,240,260,280,300,320,340,360,380,400,420,440,460,480,500,520,540,560,580,600,620,640,660,680,700], "labels": false, "grid": false, "tickSize": -4, "title": null}},
  "y": {"field": "y", "type": "quantitative", "axis": {"orient": "left", "values": [-15,-14,-13,-12,-11,-10,-9,-8,-7,-6,-5,-4,-3,-2,-1,0,1,2,3,4,5,6,7,8,9,10,11,12,13,14,15,16,17,18,19,20,21,22,23,24,25,26,27,28,29,30], "labels": false, "grid": false, "tickSize": -4, "title": null}}}},
{"data": {"name": "dummy"}, "mark": {"type": "point", "opacity": 0},
 "encoding": {
  "x": {"field": "t", "type": "quantitative", "axis": {"orient": "top", "values": [0,100,200,300,400,500,600,700], "labels": false, "grid": false, "tickSize": -7, "title": null}},
  "y": {"field": "y", "type": "quantitative", "axis": {"orient": "right", "values": [-15,-10,-5,0,5,10,15,20,25,30], "labels": false, "grid": false, "tickSize": -7, "title": null}}}},
{"data": {"name": "dummy"}, "mark": {"type": "point", "opacity": 0},
 "encoding": {
  "x": {"field": "t", "type": "quantitative", "axis": {"orient": "top", "values": [0,20,40,60,80,100,120,140,160,180,200,220,240,260,280,300,320,340,360,380,400,420,440,460,480,500,520,540,560,580,600,620,640,660,680,700], "labels": false, "grid": false, "tickSize": -4, "title": null}},
  "y": {"field": "y", "type": "quantitative", "axis": {"orient": "right", "values": [-15,-14,-13,-12,-11,-10,-9,-8,-7,-6,-5,-4,-3,-2,-1,0,1,2,3,4,5,6,7,8,9,10,11,12,13,14,15,16,17,18,19,20,21,22,23,24,25,26,27,28,29,30], "labels": false, "grid": false, "tickSize": -4, "title": null}}}},
{"data": {"name": "notes"}, "transform": [{"filter": "datum.p === 3"}],
 "mark": {"type": "text", "align": "left", "baseline": "alphabetic", "font": "DejaVu Sans Mono", "fontSize": 26.5, "color": "black"},
 "encoding": {
  "x": {"field": "t", "type": "quantitative", "axis": null},
  "y": {"field": "y", "type": "quantitative", "axis": null},
  "text": {"field": "label"}}}
],
"resolve": {"axis": {"x": "independent", "y": "independent"}}
}
],
"config": {
 "view": {"stroke": "black", "strokeWidth": 2, "fill": "white"},
 "axis": {"domain": false, "labelFont": "DejaVu Sans", "labelFontSize": 22, "labelColor": "black", "titleFont": "DejaVu Sans", "titleFontSize": 22, "titleFontWeight": "normal", "titleColor": "black", "gridColor": "black", "gridOpacity": 1, "gridDash": [2, 6], "gridWidth": 1.3, "tickColor": "black", "tickWidth": 1.5, "labelFlush": false, "labelOverlap": false}
}
}
